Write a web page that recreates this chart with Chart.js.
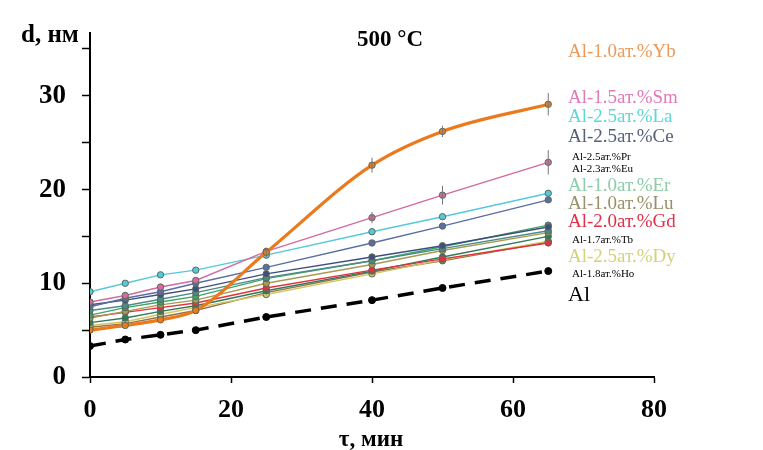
<!DOCTYPE html>
<html>
<head>
<meta charset="utf-8">
<script src="https://cdn.jsdelivr.net/npm/chart.js"></script>
<style>
  body { margin: 0; background: #fff; }
</style>
</head>
<body>
<canvas id="grafica" width="763" height="450"></canvas>
<script>
const tiempos = [0, 5, 10, 15, 25, 40, 50, 65];

const nombres = ["Al-1.0ат.%Yb", "Al-1.5ат.%Sm", "Al-2.5ат.%La", "Al-2.5ат.%Ce",
  "Al-2.5ат.%Pr", "Al-2.3ат.%Eu", "Al-1.0ат.%Er", "Al-1.0ат.%Lu",
  "Al-2.0ат.%Gd", "Al-1.7ат.%Tb", "Al-2.5ат.%Dy", "Al-1.8ат.%Ho", "Al"];

const yb = [5.0, 5.5, 6.1, 7.1, 13.3, 22.6, 26.2, 29.1];
const sm = [8.0, 8.7, 9.6, 10.3, 13.4, 17.0, 19.4, 22.9];
const la = [9.1, 10.0, 10.9, 11.4, 13.0, 15.5, 17.1, 19.6];
const ce = [7.5, 8.4, 9.1, 10.0, 11.7, 14.3, 16.1, 18.9];
const pr = [7.7, 8.2, 8.8, 9.4, 11.0, 12.8, 14.0, 16.0];
const eu = [7.1, 7.6, 8.3, 9.0, 10.6, 12.4, 13.7, 15.6];
const er = [6.6, 7.4, 8.0, 8.6, 10.5, 12.4, 13.9, 16.2];
const lu = [6.3, 7.0, 7.7, 8.2, 10.0, 12.0, 13.5, 15.4];
const gd = [6.4, 6.9, 7.4, 7.9, 9.5, 11.4, 12.6, 14.3];
const tb = [5.8, 6.3, 7.0, 7.6, 9.2, 11.3, 12.8, 15.0];
const dy = [5.5, 5.9, 6.7, 7.4, 8.8, 11.0, 12.5, 14.5];
const ho = [5.3, 5.7, 6.4, 7.1, 9.0, 11.2, 12.4, 14.4];
const al = [3.3, 4.0, 4.5, 5.0, 6.4, 8.2, 9.5, 11.3];

// погрешности (видны только у Yb и Sm)
const ybErr = [0, 0, 0, 0, 0.5, 0.8, 0.6, 1.2];
const smErr = [0, 0, 0, 0, 0, 0.6, 1.0, 1.3];

const valores = [yb, sm, la, ce, pr, eu, er, lu, gd, tb, dy, ho, al];
const errores = [ybErr, smErr];

// стиль линий и подписей справа
const colores = ["#ea7a1c", "#d36aa2", "#55c8dc", "#5a6ea4", "#3e4f7e", "#4d8a8a",
  "#3fa463", "#a89a52", "#e0323e", "#2f7a58", "#d2c660", "#96704a", "#000000"];
const coloresTexto = ["#ec9a5a", "#e07ab8", "#5fd6d6", "#55607a", "#000", "#000",
  "#8ccca8", "#9a9068", "#e0304a", "#000", "#d6d07a", "#000", "#000"];
const yTexto = [52, 98, 117, 137, 157, 169, 186, 204, 222, 240, 257, 274, 295];
const tamTexto = [19, 19, 19, 19, 11, 11, 19, 19, 19, 11, 19, 11, 22];

const conjuntos = valores.map((v, i) => {
  const esAl = i === valores.length - 1;
  const esYb = i === 0;
  return {
    label: nombres[i],
    data: tiempos.map((t, j) => ({ x: t, y: v[j] })),
    borderColor: colores[i],
    backgroundColor: colores[i],
    borderWidth: esYb ? 3.2 : (esAl ? 3.5 : 1.4),
    borderDash: esAl ? [16, 10] : [],
    pointRadius: esAl ? 3.5 : 3.2,
    pointBorderColor: esAl ? "#000" : "#5a6a5a",
    pointBorderWidth: 1,
    cubicInterpolationMode: esYb ? "monotone" : "default",
    tension: 0
  };
});

const barrasError = {
  id: "barrasError",
  afterDatasetsDraw(chart) {
    const ctx = chart.ctx;
    const xs = chart.scales.x, ys = chart.scales.y;
    ctx.save();
    errores.forEach((err, i) => {
      ctx.strokeStyle = "#777";
      ctx.lineWidth = 1;
      err.forEach((e, j) => {
        if (!e) return;
        const px = xs.getPixelForValue(tiempos[j]);
        const v = valores[i][j];
        ctx.beginPath();
        ctx.moveTo(px, ys.getPixelForValue(v - e));
        ctx.lineTo(px, ys.getPixelForValue(v + e));
        ctx.stroke();
      });
    });
    ctx.restore();
  }
};

const textos = {
  id: "textos",
  afterDraw(chart) {
    const ctx = chart.ctx;
    ctx.save();
    ctx.fillStyle = "#000";
    ctx.textBaseline = "middle";
    ctx.font = 'bold 25px "Liberation Serif"';
    ctx.textAlign = "left";
    ctx.fillText("d, нм", 21, 36);
    ctx.font = 'bold 23px "Liberation Serif"';
    ctx.textAlign = "center";
    ctx.fillText("500 °C", 390, 40);
    ctx.fillText("τ, мин", 371, 440);

    ctx.textAlign = "left";
    nombres.forEach((n, i) => {
      ctx.font = tamTexto[i] + 'px "Liberation Serif"';
      ctx.fillStyle = coloresTexto[i];
      ctx.fillText(n, tamTexto[i] < 15 ? 572 : 568, yTexto[i]);
    });
    ctx.restore();
  }
};

new Chart(document.getElementById("grafica"), {
  type: "line",
  data: { datasets: conjuntos },
  options: {
    responsive: false,
    animation: false,
    layout: { padding: { top: 33, right: 109, left: 0, bottom: 0 } },
    plugins: { legend: { display: false }, tooltip: { enabled: false } },
    scales: {
      x: {
        type: "linear",
        min: 0,
        max: 80,
        afterFit(scale) { scale.height = 73; },
        ticks: {
          stepSize: 20,
          color: "#000",
          padding: 12,
          font: { family: "Liberation Serif", size: 26, weight: "bold" }
        },
        grid: { drawOnChartArea: false, color: "#000", tickLength: 6, tickWidth: 1.5 },
        border: { color: "#000", width: 2 }
      },
      y: {
        min: 0,
        max: 36.7,
        afterFit(scale) { scale.width = 90; },
        ticks: {
          stepSize: 5,
          includeBounds: false,
          color: "#000",
          padding: 16,
          font: { family: "Liberation Serif", size: 27, weight: "bold" },
          callback: v => (v % 10 === 0 ? v : "")
        },
        grid: { drawOnChartArea: false, color: "#000", tickLength: 8, tickWidth: 1.5 },
        border: { color: "#000", width: 2 }
      }
    }
  },
  plugins: [barrasError, textos]
});
</script>
</body>
</html>
